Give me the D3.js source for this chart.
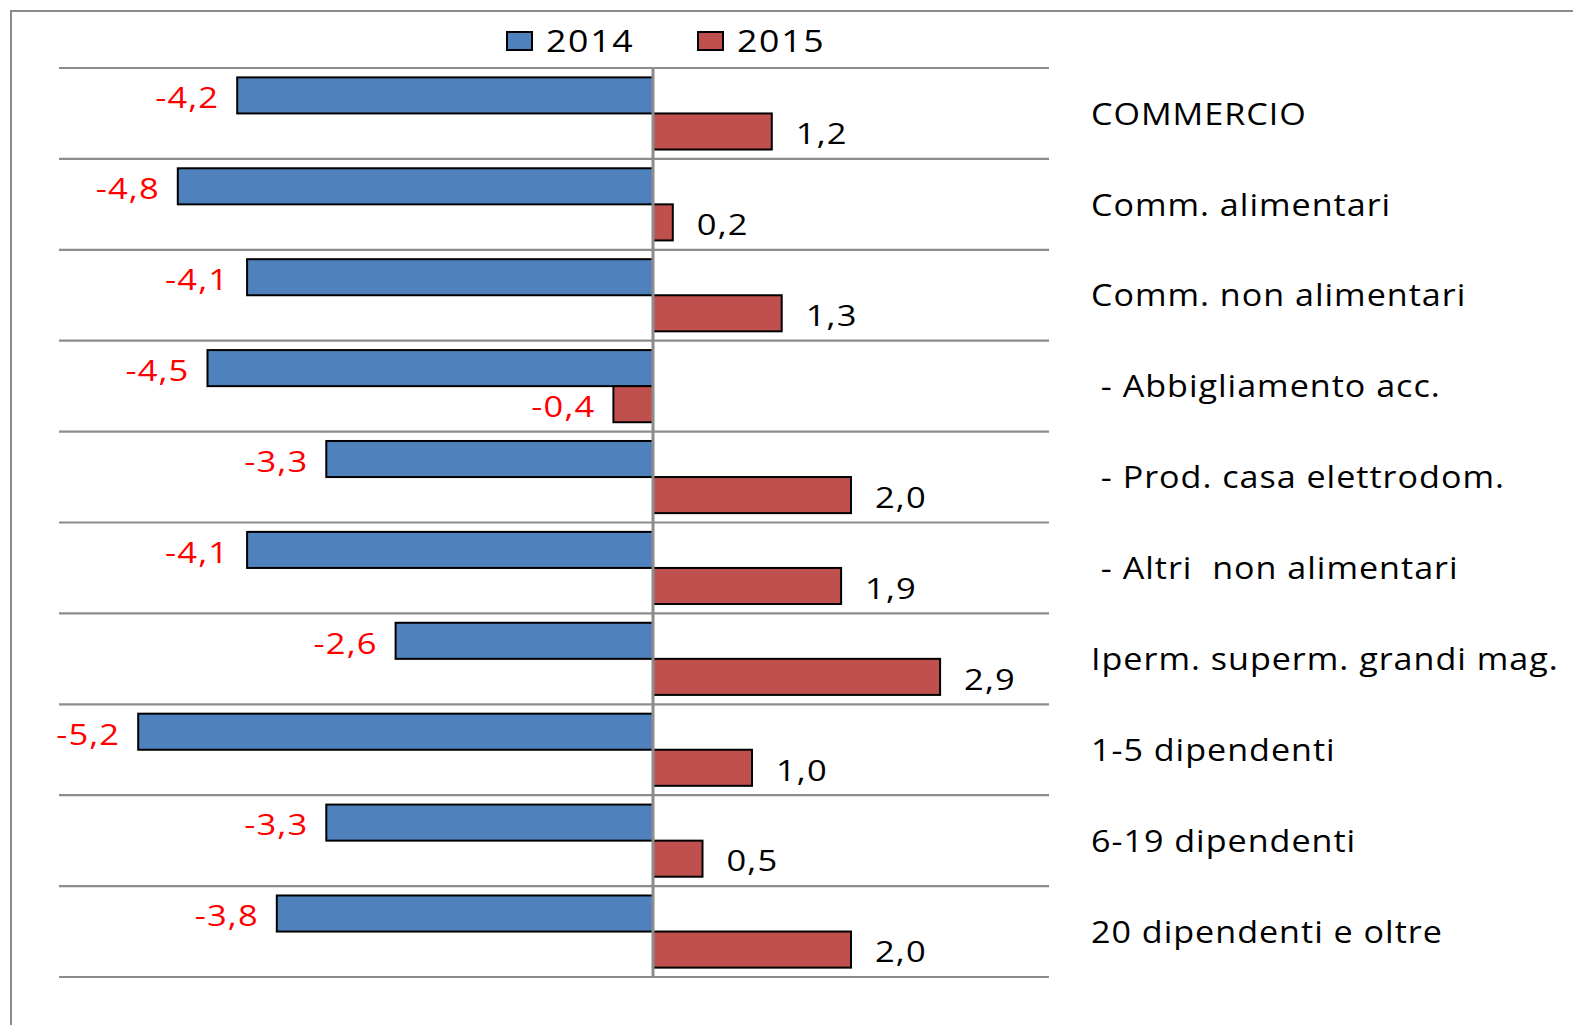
<!DOCTYPE html>
<html>
<head>
<meta charset="utf-8">
<script src="https://cdn.jsdelivr.net/npm/d3@7"></script>
<style>
  html, body { margin: 0; padding: 0; background: #fff; }
  svg { display: block; }
  text { font-family: "Open Sans", "Noto Sans", sans-serif; white-space: pre; }
</style>
</head>
<body>
<svg id="chart" width="1573" height="1025"></svg>
<script>
const categories = [
  "COMMERCIO",
  "Comm. alimentari",
  "Comm. non alimentari",
  " - Abbigliamento acc.",
  " - Prod. casa elettrodom.",
  " - Altri  non alimentari",
  "Iperm. superm. grandi mag.",
  "1-5 dipendenti",
  "6-19 dipendenti",
  "20 dipendenti e oltre"
];
const seriesNames = ["2014", "2015"];
const values2014 = [-4.2, -4.8, -4.1, -4.5, -3.3, -4.1, -2.6, -5.2, -3.3, -3.8];
const values2015 = [1.2, 0.2, 1.3, -0.4, 2.0, 1.9, 2.9, 1.0, 0.5, 2.0];
const seriesColors = ["#4F81BD", "#C0504D"];
const xDomain = [-6, 4];

const svg = d3.select("#chart");
const W = 1573, H = 1025;

// outer chart border
svg.append("rect")
  .attr("x", 11).attr("y", 11)
  .attr("width", W + 20).attr("height", H + 20)
  .attr("fill", "#fff")
  .attr("stroke", "#8c8c8c").attr("stroke-width", 2);

const plot = { left: 59, right: 1049, top: 68, bottom: 977 };

const x = d3.scaleLinear().domain(xDomain).range([plot.left, plot.right]);
const y = d3.scaleBand().domain(categories).range([plot.top, plot.bottom]).paddingInner(0).paddingOuter(0);
const y1 = d3.scaleBand().domain(seriesNames).range([0, y.bandwidth()]).paddingInner(0).paddingOuter(0.26);

// gridlines at band boundaries
const gridYs = categories.map(c => y(c)).concat([plot.bottom]);
svg.append("g").selectAll("line").data(gridYs).join("line")
  .attr("x1", plot.left).attr("x2", plot.right)
  .attr("y1", d => d).attr("y2", d => d)
  .attr("stroke", "#8c8c8c").attr("stroke-width", 2.2);

const data = [];
categories.forEach((c, i) => {
  data.push({ cat: c, series: "2014", v: values2014[i], color: seriesColors[0] });
  data.push({ cat: c, series: "2015", v: values2015[i], color: seriesColors[1] });
});

// bars
svg.append("g").selectAll("rect").data(data).join("rect")
  .attr("x", d => x(Math.min(0, d.v)))
  .attr("width", d => Math.abs(x(d.v) - x(0)))
  .attr("y", d => y(d.cat) + y1(d.series))
  .attr("height", y1.bandwidth())
  .attr("fill", d => d.color)
  .attr("stroke", "#000").attr("stroke-width", 2);

// zero axis line
svg.append("line")
  .attr("x1", x(0)).attr("x2", x(0))
  .attr("y1", plot.top).attr("y2", plot.bottom)
  .attr("stroke", "#8c8c8c").attr("stroke-width", 3);

// value labels
const fmt = v => d3.format(".1f")(v).replace(".", ",").replace("−", "-");
const labelData = data.map(d => Object.assign({}, d, {
  tx: d.v < 0 ? x(d.v) - 18 : x(d.v) + 24,
  ty: y(d.cat) + y1(d.series) + y1.bandwidth() / 2 + 2
}));
const vl = svg.append("g").selectAll("g").data(labelData).join("g")
  .attr("transform", d => `translate(${d.tx},${d.ty}) scale(1.15,1)`);
vl.append("text")
  .attr("dy", "0.36em")
  .attr("text-anchor", d => d.v < 0 ? "end" : "start")
  .attr("font-size", 30)
  .attr("letter-spacing", 1)
  .attr("fill", d => d.v < 0 ? "#FF0000" : "#000")
  .text(d => fmt(d.v));

// category labels on the right
const cl = svg.append("g").selectAll("g").data(categories).join("g")
  .attr("transform", d => `translate(1091,${y(d) + y.bandwidth() / 2}) scale(1.1,1)`);
cl.append("text")
  .attr("dy", "0.36em")
  .attr("font-size", 31)
  .attr("letter-spacing", 0.9)
  .attr("fill", "#000")
  .text(d => d);

// legend
const legendItems = [
  { name: seriesNames[0], color: seriesColors[0], x: 507 },
  { name: seriesNames[1], color: seriesColors[1], x: 698 }
];
const lg = svg.append("g").selectAll("g").data(legendItems).join("g");
lg.append("rect")
  .attr("x", d => d.x).attr("y", 32).attr("width", 25).attr("height", 18)
  .attr("fill", d => d.color).attr("stroke", "#000").attr("stroke-width", 2);
lg.append("g")
  .attr("transform", d => `translate(${d.x + 39},52) scale(1.15,1)`)
  .append("text")
  .attr("font-size", 31).attr("letter-spacing", 1.5)
  .attr("fill", "#000")
  .text(d => d.name);
</script>
</body>
</html>
